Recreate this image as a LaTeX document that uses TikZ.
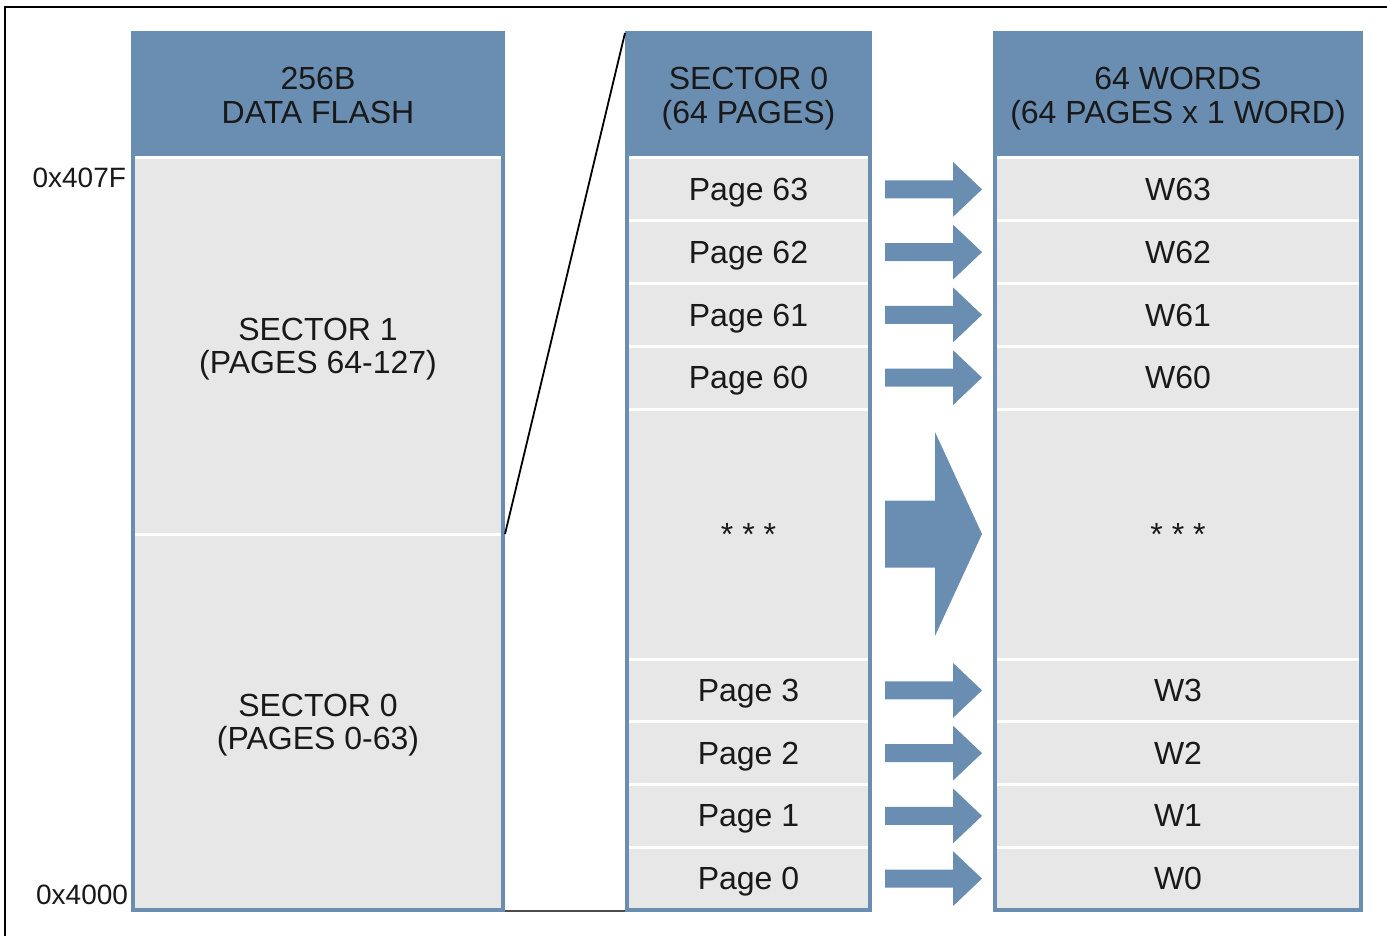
\documentclass[tikz,border=0pt]{standalone}
\usepackage{fontspec}
\setmainfont{Liberation Sans}
\usetikzlibrary{positioning,calc}

\definecolor{flashblue}{RGB}{106,142,178}
\definecolor{cellgray}{RGB}{231,231,231}

\newcommand{\pagearrow}[2]{%
  \fill[flashblue] let \p1=(#1.east), \p2=(#2.west) in
    (\x1+15,\y1+9) -- (\x2-42,\y1+9) -- (\x2-42,\y1+27.5) -- (\x2-13,\y1)
    -- (\x2-42,\y1-27.5) -- (\x2-42,\y1-9) -- (\x1+15,\y1-9) -- cycle;}

\begin{document}
\begin{tikzpicture}[
        x=1pt, y=-1pt,
        every node/.style={inner sep=0pt, outer sep=0pt, align=center, text=black!90, font=\fontsize{32}{33}\selectfont},
        header/.style={fill=flashblue, minimum height=125, text depth=0pt, font=\fontsize{32}{34}\selectfont},
        cell/.style={fill=cellgray, draw=white, line width=3pt, minimum height=62.75, text depth=0pt},
        addr/.style={font=\fontsize{28}{30}\selectfont},
        colframe/.style={draw=flashblue, line width=4pt},
        zoomline/.style={draw=black, line width=1.8pt}
        ]
        \useasboundingbox (0,0) rectangle (1387,936);
        \draw[line width=2.5pt] (5,950) |- (1400,7);

        % data flash
        \node [header, minimum width=370] (flashhead) at (318,95.5) {256B\\DATA FLASH};
        \node [cell, minimum width=370, minimum height=376, below=0pt of flashhead] (sec1) {SECTOR 1\\(PAGES 64-127)};
        \node [cell, minimum width=370, minimum height=376, below=0pt of sec1] (sec0) {SECTOR 0\\(PAGES 0-63)};
        \draw[colframe] (flashhead.north west) rectangle (sec0.south east);
        \node [addr, anchor=east] at ([xshift=-7,yshift=-20]sec1.north west) {0x407F};
        \node [addr, anchor=east] at ([xshift=-5,yshift=15]sec0.south west) {0x4000};

        % sector 0 pages
        \node [header, minimum width=243] (midhead) at (748.5,95.5) {SECTOR 0\\(64 PAGES)};
        \foreach \r/\prev in {63/midhead,62/p63,61/p62,60/p61}
          \node [cell, minimum width=243, below=0pt of \prev] (p\r) {Page \r};
        \node [cell, minimum width=243, minimum height=250, below=0pt of p60] (pdots) {* * *};
        \foreach \r/\prev in {3/pdots,2/p3,1/p2,0/p1}
          \node [cell, minimum width=243, below=0pt of \prev] (p\r) {Page \r};
        \draw[colframe] (midhead.north west) rectangle (p0.south east);

        % words
        \node [header, minimum width=366] (wordhead) at (1178,95.5) {64 WORDS\\(64 PAGES x 1 WORD)};
        \foreach \r/\prev in {63/wordhead,62/w63,61/w62,60/w61}
          \node [cell, minimum width=366, below=0pt of \prev] (w\r) {W\r};
        \node [cell, minimum width=366, minimum height=250, below=0pt of w60] (wdots) {* * *};
        \foreach \r/\prev in {3/wdots,2/w3,1/w2,0/w1}
          \node [cell, minimum width=366, below=0pt of \prev] (w\r) {W\r};
        \draw[colframe] (wordhead.north west) rectangle (w0.south east);

        \foreach \r in {63,62,61,60,3,2,1,0}
          \pagearrow{p\r}{w\r};
        \fill[flashblue] let \p1=(pdots.east), \p2=(wdots.west) in
          (\x1+15,\y1+33.5) -- (\x2-60,\y1+33.5) -- (\x2-60,\y1+102) -- (\x2-13,\y1)
          -- (\x2-60,\y1-102) -- (\x2-60,\y1-33.5) -- (\x1+15,\y1-33.5) -- cycle;

        \draw[zoomline] ([xshift=2]sec1.south east) -- ([xshift=-2]midhead.north west);
        \draw[draw=black!70, line width=2.5pt] ([xshift=2,yshift=-1]sec0.south east) -- ([xshift=-2,yshift=-1]p0.south west);
    \end{tikzpicture}
\end{document}
